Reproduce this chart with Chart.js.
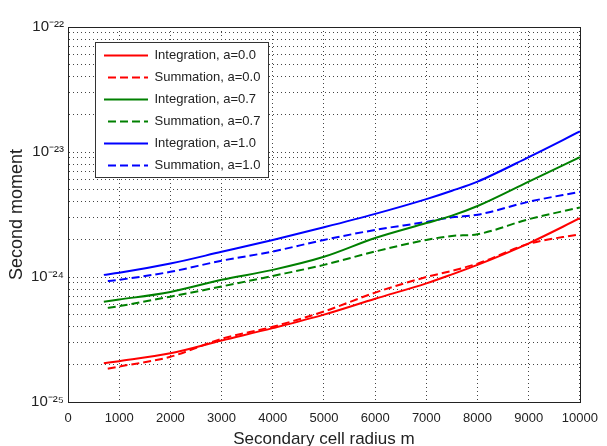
<!DOCTYPE html>
<html>
<head>
<meta charset="utf-8">
<script src="https://cdn.jsdelivr.net/npm/chart.js@4"></script>
<style>
  html, body { margin: 0; padding: 0; background: #fff; }
  #wrap { width: 607px; height: 446px; }
</style>
</head>
<body>
<div id="wrap"><canvas id="Charts"></canvas></div>
<script>
// secondary cell radius (m)
let radius = [700, 1000, 2000, 3000, 4000, 5000, 6000, 7000, 7500, 8000, 9000, 10000]

let int_a00 = [2.04e-25, 2.12e-25, 2.45e-25, 3.1e-25, 3.9e-25, 5.0e-25, 6.7e-25, 8.9e-25, 1.05e-24, 1.25e-24, 1.86e-24, 2.95e-24]
let sum_a00 = [1.82e-25, 1.92e-25, 2.3e-25, 3.2e-25, 4.0e-25, 5.3e-25, 7.5e-25, 1.0e-24, 1.12e-24, 1.28e-24, 1.84e-24, 2.2e-24]
let int_a07 = [6.35e-25, 6.6e-25, 7.6e-25, 9.5e-25, 1.14e-24, 1.45e-24, 2.05e-24, 2.7e-24, 3.1e-24, 3.7e-24, 5.8e-24, 9.1e-24]
let sum_a07 = [5.6e-25, 5.85e-25, 6.96e-25, 8.4e-25, 1.02e-24, 1.25e-24, 1.6e-24, 1.98e-24, 2.13e-24, 2.2e-24, 2.9e-24, 3.6e-24]
let int_a10 = [1.04e-24, 1.08e-24, 1.28e-24, 1.59e-24, 1.98e-24, 2.5e-24, 3.2e-24, 4.2e-24, 4.9e-24, 5.8e-24, 9.1e-24, 1.46e-23]
let sum_a10 = [9.2e-25, 9.5e-25, 1.1e-24, 1.35e-24, 1.6e-24, 1.98e-24, 2.38e-24, 2.76e-24, 3.0e-24, 3.15e-24, 4.0e-24, 4.8e-24]

let x_ticks = [0, 1000, 2000, 3000, 4000, 5000, 6000, 7000, 8000, 9000, 10000]
let y_decades = [-25, -24, -23, -22]

const tickFont = { family: "'Liberation Sans Narrow', 'Arial Narrow', 'Liberation Sans', sans-serif", size: 13 }
const sup = { '-': '\u207B', '0': '\u2070', '1': '\u00B9', '2': '\u00B2', '3': '\u00B3', '4': '\u2074', '5': '\u2075', '6': '\u2076', '7': '\u2077', '8': '\u2078', '9': '\u2079' }

function powLabel(e) {
    return '10' + String(e).split('').map(c => sup[c]).join('')
}

function logTicks() {
    let out = []
    for (let i = 0; i < y_decades.length; i++) {
        let e = y_decades[i]
        if (i === y_decades.length - 1) {
            out.push({ value: Math.pow(10, e) })
            break
        }
        for (let k = 1; k <= 9; k++) out.push({ value: k * Math.pow(10, e) })
    }
    return out
}

function series(label, values, color, dashed) {
    return {
        label: label,
        data: values.map((v, i) => ({ x: radius[i], y: v })),
        borderColor: color,
        backgroundColor: color,
        borderWidth: 2,
        borderDash: dashed ? [8, 4] : [],
        // offset keeps the legend sample dashed (its box path runs there and back)
        borderDashOffset: dashed ? 8 : 0,
        pointRadius: 0,
        cubicInterpolationMode: 'monotone',
        fill: false,
    }
}

const boxPlugin = {
    id: 'boxPlugin',
    afterLayout(chart) {
        const lg = chart.legend
        lg.left = chart.chartArea.left + 27
        lg.top = chart.chartArea.top + 13
    },
    afterDatasetsDraw(chart) {
        const ctx = chart.ctx
        const a = chart.chartArea
        const lg = chart.legend
        const hb = lg.legendHitBoxes
        let right = 0
        hb.forEach(h => { right = Math.max(right, h.left + h.width) })
        const last = hb[hb.length - 1]
        const x0 = Math.round(lg.left) + 0.5
        const y0 = Math.round(lg.top + 2) + 0.5
        const x1 = Math.round(right + 8) + 0.5
        const y1 = Math.round(last.top + last.height + 5) + 0.5
        ctx.save()
        ctx.fillStyle = '#fff'
        ctx.fillRect(x0, y0, x1 - x0, y1 - y0)
        ctx.strokeStyle = '#333'
        ctx.lineWidth = 1
        ctx.strokeRect(x0, y0, x1 - x0, y1 - y0)
        ctx.restore()
        lg.draw()
        // axes frame
        ctx.save()
        ctx.strokeStyle = '#222'
        ctx.lineWidth = 1
        ctx.strokeRect(Math.round(a.left) + 0.5, Math.round(a.top) + 0.5, Math.round(a.right - a.left), Math.round(a.bottom - a.top))
        ctx.restore()
    }
}

const ctx = document.getElementById('Charts')

let chart = new Chart(ctx, {
    type: 'line',
    data: {
        datasets: [
            series('Integration, a=0.0', int_a00, '#ff0000', false),
            series('Summation, a=0.0', sum_a00, '#ff0000', true),
            series('Integration, a=0.7', int_a07, '#008000', false),
            series('Summation, a=0.7', sum_a07, '#008000', true),
            series('Integration, a=1.0', int_a10, '#0000ff', false),
            series('Summation, a=1.0', sum_a10, '#0000ff', true),
        ]
    },
    options: {
        responsive: true,
        maintainAspectRatio: false,
        animation: false,
        layout: { padding: { left: 0, top: 27, right: 19, bottom: 0 } },
        plugins: {
            legend: {
                position: 'chartArea',
                align: 'start',
                labels: {
                    // zero-height box so the sample is drawn as a (dashed) line
                    boxWidth: 44,
                    boxHeight: 0,
                    padding: 9,
                    color: '#222',
                    font: tickFont,
                },
            },
            tooltip: { enabled: false },
        },
        scales: {
            x: {
                type: 'linear',
                min: 0,
                max: 10000,
                afterBuildTicks: s => { s.ticks = x_ticks.map(v => ({ value: v })) },
                afterFit: s => { s.height = 44 },
                ticks: { color: '#222', font: tickFont, padding: 9, maxRotation: 0, autoSkip: false, callback: v => String(v) },
                grid: { color: '#444', drawTicks: false },
                border: { color: '#222', dash: [1, 3] },
                title: {
                    display: true,
                    text: 'Secondary cell radius m',
                    color: '#222',
                    font: { family: "'Liberation Sans', Arial, sans-serif", size: 17 },
                    padding: { top: 0, bottom: -4 },
                },
            },
            y: {
                type: 'logarithmic',
                min: Math.pow(10, y_decades[0]),
                max: Math.pow(10, y_decades[y_decades.length - 1]),
                afterBuildTicks: s => { s.ticks = logTicks() },
                afterFit: s => { s.width = 68 },
                ticks: {
                    color: '#222',
                    font: { family: tickFont.family, size: 15 },
                    padding: 4,
                    autoSkip: false,
                    callback: v => {
                        let e = Math.round(Math.log10(v))
                        return Math.abs(v / Math.pow(10, e) - 1) < 1e-6 ? powLabel(e) : ''
                    },
                },
                grid: { color: '#444', drawTicks: false },
                border: { color: '#222', dash: [1, 3] },
                title: {
                    display: true,
                    text: 'Second moment',
                    color: '#222',
                    font: { family: "'Liberation Sans', Arial, sans-serif", size: 18 },
                    padding: { top: 6, bottom: 0 },
                },
            },
        },
    },
    plugins: [boxPlugin],
})
</script>
</body>
</html>
